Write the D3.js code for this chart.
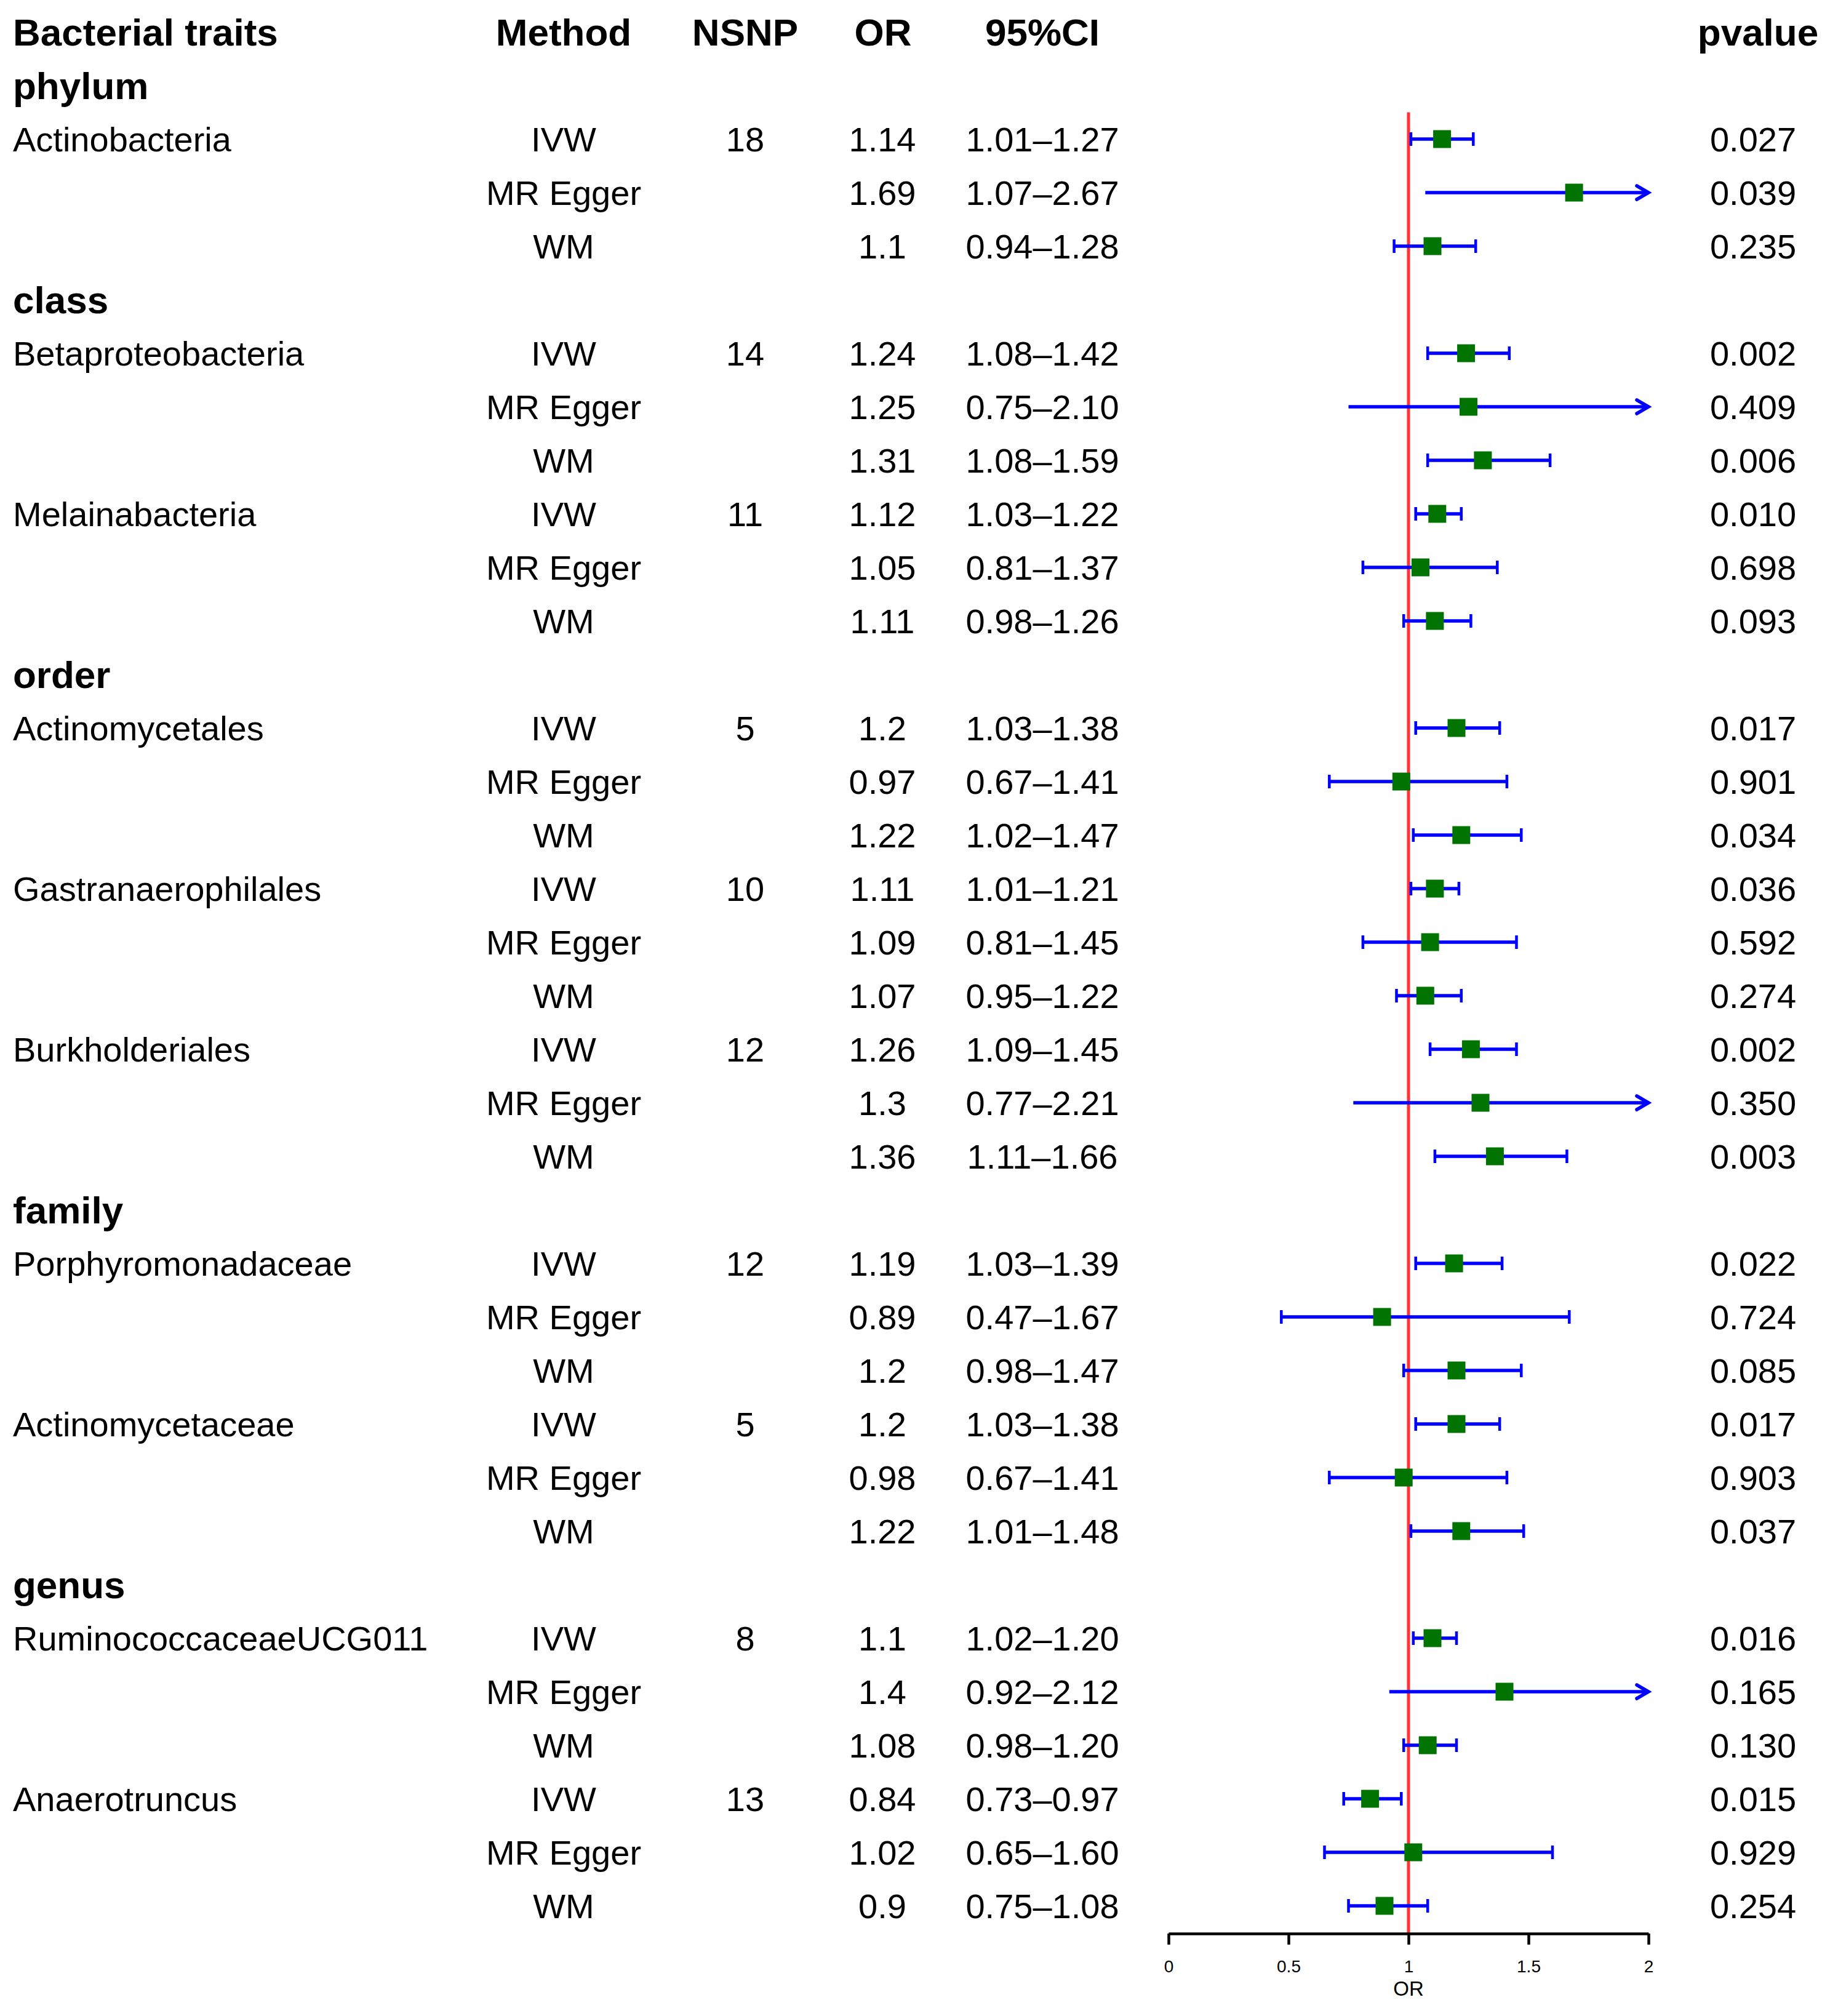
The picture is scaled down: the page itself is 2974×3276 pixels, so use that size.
<!DOCTYPE html>
<html>
<head>
<meta charset="utf-8">
<script src="https://cdn.jsdelivr.net/npm/d3@7"></script>
<style>
  html, body { margin: 0; padding: 0; background: #fff; }
  svg { display: block; }
  text { font-family: "Liberation Sans", Arial, Helvetica, sans-serif; }
</style>
</head>
<body>
<svg id="chart" width="2974" height="3276"></svg>
<script>
// ---------------- DATA ----------------
const headers = ["Bacterial traits", "Method", "NSNP", "OR", "95%CI", "pvalue"];
const groups = ["phylum", "class", "order", "family", "genus"];
const traits = ["Actinobacteria", "Betaproteobacteria", "Melainabacteria",
  "Actinomycetales", "Gastranaerophilales", "Burkholderiales",
  "Porphyromonadaceae", "Actinomycetaceae",
  "RuminococcaceaeUCG011", "Anaerotruncus"];
const traitGroup = ["phylum", "class", "class", "order", "order", "order",
  "family", "family", "genus", "genus"];
const nsnp = [18, 14, 11, 5, 10, 12, 12, 5, 8, 13];
const methods = ["IVW", "MR Egger", "WM"];
// per trait: [IVW, MR Egger, WM]
const orVals = [[1.14, 1.69, 1.1], [1.24, 1.25, 1.31], [1.12, 1.05, 1.11],
  [1.2, 0.97, 1.22], [1.11, 1.09, 1.07], [1.26, 1.3, 1.36],
  [1.19, 0.89, 1.2], [1.2, 0.98, 1.22], [1.1, 1.4, 1.08], [0.84, 1.02, 0.9]];
const ciLow = [[1.01, 1.07, 0.94], [1.08, 0.75, 1.08], [1.03, 0.81, 0.98],
  [1.03, 0.67, 1.02], [1.01, 0.81, 0.95], [1.09, 0.77, 1.11],
  [1.03, 0.47, 0.98], [1.03, 0.67, 1.01], [1.02, 0.92, 0.98], [0.73, 0.65, 0.75]];
const ciHigh = [[1.27, 2.67, 1.28], [1.42, 2.10, 1.59], [1.22, 1.37, 1.26],
  [1.38, 1.41, 1.47], [1.21, 1.45, 1.22], [1.45, 2.21, 1.66],
  [1.39, 1.67, 1.47], [1.38, 1.41, 1.48], [1.20, 2.12, 1.20], [0.97, 1.60, 1.08]];
const pVals = [[0.027, 0.039, 0.235], [0.002, 0.409, 0.006], [0.010, 0.698, 0.093],
  [0.017, 0.901, 0.034], [0.036, 0.592, 0.274], [0.002, 0.350, 0.003],
  [0.022, 0.724, 0.085], [0.017, 0.903, 0.037], [0.016, 0.165, 0.130], [0.015, 0.929, 0.254]];
const axisTicks = [0, 0.5, 1, 1.5, 2];
const xDomain = [0, 2];
const refValue = 1;
const axisTitle = "OR";

// ---------------- BUILD ROWS ----------------
const rows = [];
groups.forEach(g => {
  rows.push({ type: "group", label: g });
  traits.forEach((t, ti) => {
    if (traitGroup[ti] !== g) return;
    methods.forEach((m, mi) => {
      rows.push({
        type: "data",
        trait: mi === 0 ? t : "",
        method: m,
        nsnp: mi === 0 ? String(nsnp[ti]) : "",
        or: orVals[ti][mi],
        lo: ciLow[ti][mi],
        hi: ciHigh[ti][mi],
        p: pVals[ti][mi]
      });
    });
  });
});

// ---------------- LAYOUT ----------------
const svg = d3.select("#chart");
const rowStep = 87.0;
const y = d3.scaleLinear().domain([0, rows.length]).range([52, 52 + rows.length * rowStep]);
const x = d3.scaleLinear().domain(xDomain).range([1899, 2679]);

const FS = 56, FSB = 62;
const colX = { trait: 21, method: 916, nsnp: 1211, or: 1434, ci: 1694, p: 2849 };
const headX = [21, 916, 1211, 1435, 1694, 2857];
const headAnchor = ["start", "middle", "middle", "middle", "middle", "middle"];

// header
svg.append("g").selectAll("text").data(headers).join("text")
  .attr("x", (d, i) => headX[i])
  .attr("y", y(0) + 0.358 * FSB)
  .attr("text-anchor", (d, i) => headAnchor[i])
  .attr("font-size", FSB).attr("font-weight", "bold")
  .text(d => d);

const body = svg.append("g");
rows.forEach((r, i) => {
  const yc = y(i + 1);
  const base = yc + 0.358 * FS;
  if (r.type === "group") {
    body.append("text").attr("x", colX.trait).attr("y", yc + 0.358 * FSB)
      .attr("font-size", FSB).attr("font-weight", "bold").text(r.label);
    return;
  }
  const cells = [
    [colX.trait, "start", r.trait],
    [colX.method, "middle", r.method],
    [colX.nsnp, "middle", r.nsnp],
    [colX.or, "middle", String(r.or)],
    [colX.ci, "middle", r.lo.toFixed(2) + "\u2013" + r.hi.toFixed(2)],
    [colX.p, "middle", r.p.toFixed(3)]
  ];
  cells.forEach(c => {
    if (c[2] === "") return;
    body.append("text").attr("x", c[0]).attr("y", base)
      .attr("text-anchor", c[1]).attr("font-size", FS).text(c[2]);
  });
});

// reference line
const axisY = 3142;
svg.append("line")
  .attr("x1", x(refValue)).attr("x2", x(refValue))
  .attr("y1", (y(1) + y(2)) / 2).attr("y2", axisY)
  .attr("stroke", "#ff3333").attr("stroke-width", 5);

// error bars & points
const dataRows = rows.map((r, i) => ({ ...r, idx: i + 1 })).filter(r => r.type === "data");
const marks = svg.append("g");
const blue = "#0000ff";
dataRows.forEach(r => {
  const yc = y(r.idx);
  const over = r.hi > xDomain[1];
  const xl = x(Math.max(r.lo, xDomain[0]));
  const xr = x(Math.min(r.hi, xDomain[1]));
  marks.append("line").attr("x1", xl).attr("x2", xr).attr("y1", yc).attr("y2", yc)
    .attr("stroke", blue).attr("stroke-width", 5.5);
  if (over) {
    marks.append("path")
      .attr("d", `M${xr - 19},${yc - 11}L${xr},${yc}L${xr - 19},${yc + 11}`)
      .attr("fill", "none").attr("stroke", blue).attr("stroke-width", 5.5)
      .attr("stroke-linecap", "round").attr("stroke-linejoin", "miter");
  } else {
    [xl, xr].forEach(xx => {
      marks.append("line").attr("x1", xx).attr("x2", xx)
        .attr("y1", yc - 11).attr("y2", yc + 11)
        .attr("stroke", blue).attr("stroke-width", 4.5);
    });
  }
  const s = 29;
  marks.append("rect").attr("x", x(r.or) - s / 2).attr("y", yc - s / 2)
    .attr("width", s).attr("height", s).attr("fill", "#007300");
});

// axis
const axis = d3.axisBottom(x).tickValues(axisTicks).tickFormat(d3.format(""))
  .tickSize(18).tickSizeOuter(0).tickPadding(25);
const ag = svg.append("g").attr("transform", `translate(0,${axisY})`).call(axis);
ag.select(".domain").attr("stroke", "#000").attr("stroke-width", 4.5);
ag.selectAll(".tick line").attr("stroke", "#000").attr("stroke-width", 4.5);
ag.selectAll(".tick text").attr("font-size", 28).attr("fill", "#000")
  .attr("font-family", "'Liberation Sans', Arial, sans-serif");
ag.attr("font-family", null).attr("font-size", null);

svg.append("text").attr("x", x(refValue)).attr("y", 3231 + 0.358 * 33)
  .attr("text-anchor", "middle").attr("font-size", 33).text(axisTitle);
</script>
</body>
</html>
